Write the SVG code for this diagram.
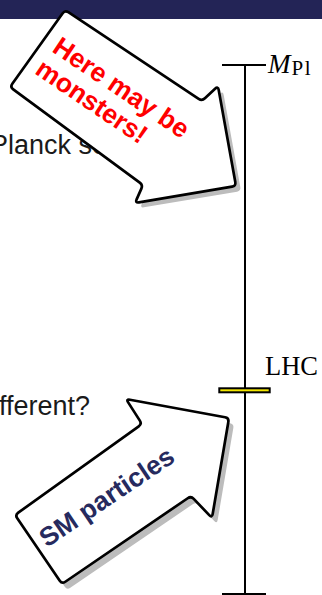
<svg xmlns="http://www.w3.org/2000/svg" width="322" height="595" viewBox="0 0 322 595">
<style>
.body{font-family:"Liberation Sans",Arial,sans-serif;font-size:27px;fill:#1a1a1a}
.serif{font-family:"Liberation Serif","Times New Roman",serif;fill:#000}
.ax{stroke:#000;stroke-width:2;fill:none}
.arrow{fill:#fff;stroke:#000;stroke-width:2.7;stroke-linejoin:round}
.shadow{fill:#bcbcbc;stroke:none}
.lbl{font-family:"Liberation Sans",Arial,sans-serif;font-weight:bold;font-size:26.5px}
</style>
<defs>
<path id="arrowTop" d="M 68.33 12.21 L 198.67 98.79 Q 202 101 204.92 98.26 L 215.08 88.74 Q 218 86 218.71 89.94 L 235.29 182.06 Q 236 186 232.06 186.66 L 138.94 202.34 Q 135 203 136.62 199.34 L 141.38 188.66 Q 143 185 139.78 182.63 L 13.22 89.37 Q 10 87 12.32 83.74 L 62.68 13.26 Q 65 10 68.33 12.21 Z"/>
<path id="arrowBottom" d="M 18.25 512.67 L 138.75 426.33 Q 142 424 139.84 420.63 L 128.16 402.37 Q 126 399 129.94 399.72 L 225.06 417.28 Q 229 418 228.33 421.94 L 212.67 514.06 Q 212 518 209.24 515.10 L 193.76 498.90 Q 191 496 187.70 498.25 L 65.30 581.75 Q 62 584 59.75 580.70 L 17.25 518.30 Q 15 515 18.25 512.67 Z"/>
</defs>
<rect x="0" y="0" width="322" height="595" fill="#fff"/>
<g id="header"><rect x="0" y="0" width="322" height="19" fill="#232456"/></g>
<g id="body-text">
<text class="body" x="-10" y="154">Planck sc</text>
<text class="body" x="-1" y="415">fferent?</text>
</g>
<g id="connectors">
<line class="ax" x1="245" y1="65" x2="245" y2="594"/>
<line class="ax" x1="222" y1="65" x2="266" y2="65"/>
<line class="ax" x1="222" y1="594" x2="266" y2="594"/>
</g>
<g id="mpl">
<text class="serif" x="268" y="72.5" font-size="27" font-style="italic">M<tspan font-style="normal" font-size="21" dx="1" dy="2.5" letter-spacing="1.5">Pl</tspan></text>
</g>
<g id="lhc">
<rect x="219.3" y="388.3" width="50.4" height="4" fill="#f2e600" stroke="#000" stroke-width="2"/>
<text class="serif" x="265" y="375" font-size="26.5">LHC</text>
</g>
<g id="monsters-arrow">
<use href="#arrowTop" class="shadow" transform="translate(5,5)"/>
<use href="#arrowTop" class="arrow"/>
<g transform="translate(51,51) rotate(34)">
<text class="lbl" fill="#ff0000" x="0" y="0">Here may be</text>
<text class="lbl" fill="#ff0000" x="-2" y="28">monsters!</text>
</g>
</g>
<g id="sm-arrow">
<use href="#arrowBottom" class="shadow" transform="translate(5,6)"/>
<use href="#arrowBottom" class="arrow"/>
<g transform="translate(47,548) rotate(-34)">
<text class="lbl" fill="#262a5e" x="0" y="0">SM particles</text>
</g>
</g>
</svg>
